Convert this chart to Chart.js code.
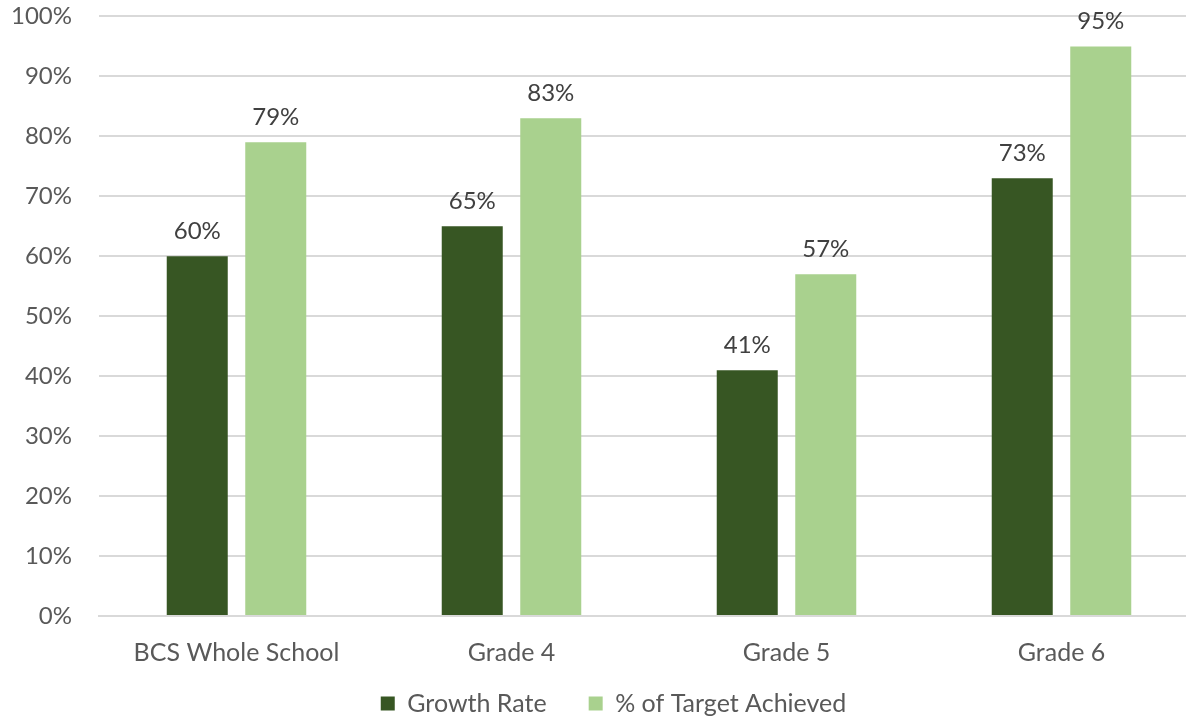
<!DOCTYPE html>
<html>
<head>
<meta charset="utf-8">
<script src="https://cdn.jsdelivr.net/npm/chart.js@4"></script>
<style>
    body { margin: 0; overflow: hidden; background: #fff; }
    #wrap { width: 1199px; height: 751px; margin-top: -25px; position: relative; }
</style>
</head>
<body>
<div id="wrap"><canvas id="chart"></canvas></div>
<script>
const categories = ["BCS Whole School", "Grade 4", "Grade 5", "Grade 6"];
const growthRate = [60, 65, 41, 73];
const targetAchieved = [79, 83, 57, 95];
const yTicks = [0, 10, 20, 30, 40, 50, 60, 70, 80, 90, 100];

const FONT = "Lato";

// draws the value above each bar
const barLabels = {
    id: "barLabels",
    afterDatasetsDraw(chart) {
        const ctx = chart.ctx;
        ctx.save();
        ctx.font = "24px " + FONT;
        ctx.fillStyle = "#404040";
        ctx.textAlign = "center";
        ctx.textBaseline = "bottom";
        chart.data.datasets.forEach((ds, i) => {
            chart.getDatasetMeta(i).data.forEach((bar, j) => {
                ctx.fillText(ds.data[j] + "%", bar.x, bar.y - 13);
            });
        });
        ctx.restore();
    }
};

// nudge the legend row a bit to the right
const legendShift = {
    id: "legendShift",
    afterLayout(chart) {
        chart.legend.left += 14;
        chart.legend.right += 14;
    }
};

let chart = new Chart(document.getElementById("chart"), {
    type: "bar",
    data: {
        labels: categories,
        datasets: [{
            label: "Growth Rate     ",
            data: growthRate,
            backgroundColor: "#375623"
        }, {
            label: "% of Target Achieved",
            data: targetAchieved,
            backgroundColor: "#A9D18E"
        }]
    },
    options: {
        responsive: true,
        maintainAspectRatio: false,
        animation: false,
        categoryPercentage: 0.571,
        barPercentage: 0.777,
        layout: {
            autoPadding: false,
            padding: { top: 17, left: 0, right: 0, bottom: 0 }
        },
        scales: {
            x: {
                grid: { display: false },
                border: { color: "#D9D9D9", width: 2 },
                ticks: {
                    color: "#595959",
                    padding: 14,
                    font: { family: FONT, size: 25 }
                },
                afterFit: function(scale) { scale.height = 65; }
            },
            y: {
                min: 0,
                max: 100,
                afterBuildTicks: function(scale) {
                    scale.ticks = yTicks.map(v => ({ value: v }));
                },
                grid: { color: "#D9D9D9", lineWidth: 2, drawTicks: false },
                border: { display: false },
                ticks: {
                    color: "#595959",
                    padding: 27,
                    font: { family: FONT, size: 24 },
                    callback: v => v + "%"
                },
                afterFit: function(scale) { scale.width = 99; }
            }
        },
        plugins: {
            legend: {
                position: "bottom",
                labels: {
                    color: "#595959",
                    font: { family: FONT, size: 25 },
                    boxWidth: 14,
                    boxHeight: 14,
                    padding: 10
                }
            },
            tooltip: { enabled: false }
        }
    },
    plugins: [barLabels, legendShift]
});
</script>
</body>
</html>
